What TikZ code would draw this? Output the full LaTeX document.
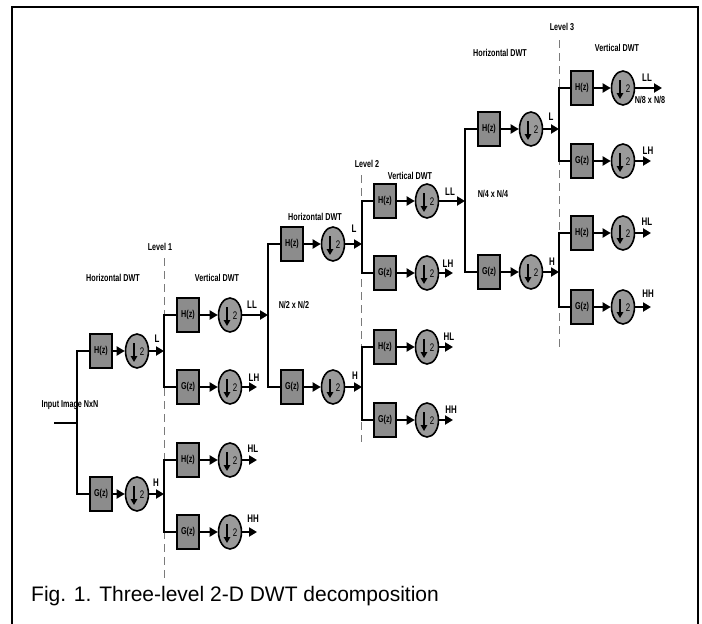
\documentclass[tikz,border=0pt]{standalone}
\usepackage{fontspec}
\setmainfont{Liberation Sans}
\newfontfamily\lab[FakeStretch=0.72]{Liberation Sans}
\usetikzlibrary{arrows.meta,shapes.geometric}
\definecolor{boxgray}{HTML}{8C8C8C}
\definecolor{circgray}{HTML}{9A9A9A}
\definecolor{dashgray}{HTML}{7A7A7A}
\newcommand\dnsamp[3]{%
  \node[dsamp] (#1) at (#2,#3) {};
  \draw[line width=1.4pt,-{Triangle[length=6pt,width=6.5pt]}] ([xshift=-3pt,yshift=8pt]#1.center) -- ([xshift=-3pt,yshift=-11pt]#1.center);
  \node[lbl,font=\lab\fontsize{11}{12}\selectfont] at ([xshift=5pt,yshift=-1pt]#1.center) {2};
}
\newcommand\stage[6]{%
  \node[filt] (#1) at (#3,#5) {#6};
  \dnsamp{#2}{#4}{#5}
  \draw[sig] (#1.east) -- (#2.west);
}
\begin{document}
\begin{tikzpicture}[x=1pt,y=-1pt,
  filt/.style={draw=black,line width=2.6pt,fill=boxgray,minimum width=22pt,minimum height=34pt,inner sep=0pt,font=\lab\bfseries\fontsize{10}{11}\selectfont},
  dsamp/.style={ellipse,draw=black,line width=1.6pt,fill=circgray,minimum width=23pt,minimum height=34pt,inner sep=0pt},
  sig/.style={line width=2.8pt,-{Triangle[length=8pt,width=9pt]}},
  wire/.style={line width=2.8pt},
  lbl/.style={font=\lab\bfseries\fontsize{10}{11}\selectfont,inner sep=0pt},
  sl/.style={font=\lab\bfseries\fontsize{11}{12}\selectfont,inner sep=0pt},
  lvl/.style={draw=dashgray,line width=1pt,dash pattern=on 8pt off 5pt},
]
\useasboundingbox (0,0) rectangle (702,624);
\fill[white] (0,0) rectangle (702,624);
% frame
\draw[line width=2pt] (11.5,630) -- (11.5,6.5) -- (697.5,6.5) -- (697.5,630);

% dashed level separators
\draw[lvl] (164,258) -- (164,582);
\draw[lvl] (361,175) -- (361,442);
\draw[lvl] (559,40) -- (559,347);

% headings
\node[lbl] at (160,247) {Level 1};
\node[lbl] at (367,164) {Level 2};
\node[lbl] at (562,27) {Level 3};
\node[lbl] at (113,278) {Horizontal DWT};
\node[lbl] at (217,278) {Vertical DWT};
\node[lbl] at (315,217) {Horizontal DWT};
\node[lbl] at (410,176) {Vertical DWT};
\node[lbl] at (500,53) {Horizontal DWT};
\node[lbl] at (617,48) {Vertical DWT};
\node[lbl] at (70,405) {Input Image NxN};
\node[lbl] at (294,305) {N/2 x N/2};
\node[lbl] at (493,194) {N/4 x N/4};
\node[lbl] at (650,100) {N/8 x N/8};

% stages
\stage{a1}{a1d}{101}{137}{351}{H(z)}
\stage{a2}{a2d}{101}{137}{494}{G(z)}
\stage{b1}{b1d}{188}{230}{315}{H(z)}
\stage{b2}{b2d}{188}{230}{387}{G(z)}
\stage{b3}{b3d}{188}{230}{460}{H(z)}
\stage{b4}{b4d}{188}{230}{532}{G(z)}
\stage{c1}{c1d}{292}{333}{244}{H(z)}
\stage{c2}{c2d}{292}{333}{387}{G(z)}
\stage{d1}{d1d}{385}{427}{201}{H(z)}
\stage{d2}{d2d}{385}{427}{273}{G(z)}
\stage{d3}{d3d}{385}{427}{347}{H(z)}
\stage{d4}{d4d}{385}{427}{420}{G(z)}
\stage{e1}{e1d}{489}{531}{129}{H(z)}
\stage{e2}{e2d}{489}{531}{272}{G(z)}
\stage{f1}{f1d}{582}{623}{88}{H(z)}
\stage{f2}{f2d}{582}{623}{161}{G(z)}
\stage{f3}{f3d}{582}{623}{233}{H(z)}
\stage{f4}{f4d}{582}{623}{307}{G(z)}

% junctions
\coordinate (in0) at (54,423);
\coordinate (j0) at (77,423);
\coordinate (j1) at (164,351);
\coordinate (j2) at (164,494);
\coordinate (j3) at (268,315);
\coordinate (j4) at (362,244);
\coordinate (j5) at (362,387);
\coordinate (j6) at (465,201);
\coordinate (j7) at (559,129);
\coordinate (j8) at (559,272);

\draw[wire] (in0) -- (j0);
\draw[wire] (a1.west) -| (j0) |- (a2.west);
\draw[sig] (a1d.east) -- (j1);
\draw[sig] (a2d.east) -- (j2);
\draw[wire] (b1.west) -| (j1) |- (b2.west);
\draw[wire] (b3.west) -| (j2) |- (b4.west);
\draw[sig] (b1d.east) -- (j3);
\draw[wire] (c1.west) -| (j3) |- (c2.west);
\draw[sig] (c1d.east) -- (j4);
\draw[sig] (c2d.east) -- (j5);
\draw[wire] (d1.west) -| (j4) |- (d2.west);
\draw[wire] (d3.west) -| (j5) |- (d4.west);
\draw[sig] (d1d.east) -- (j6);
\draw[wire] (e1.west) -| (j6) |- (e2.west);
\draw[sig] (e1d.east) -- (j7);
\draw[sig] (e2d.east) -- (j8);
\draw[wire] (f1.west) -| (j7) |- (f2.west);
\draw[wire] (f3.west) -| (j8) |- (f4.west);

% free outputs
\coordinate (o1) at (257,387);
\coordinate (o2) at (257,460);
\coordinate (o3) at (257,532);
\coordinate (o4) at (453,273);
\coordinate (o5) at (453,347);
\coordinate (o6) at (453,420);
\coordinate (o7) at (662,88);
\coordinate (o8) at (651,161);
\coordinate (o9) at (651,233);
\coordinate (o10) at (651,307);
\draw[sig] (b2d.east) -- (o1);
\draw[sig] (b3d.east) -- (o2);
\draw[sig] (b4d.east) -- (o3);
\draw[sig] (d2d.east) -- (o4);
\draw[sig] (d3d.east) -- (o5);
\draw[sig] (d4d.east) -- (o6);
\draw[sig] (f1d.east) -- (o7);
\draw[sig] (f2d.east) -- (o8);
\draw[sig] (f3d.east) -- (o9);
\draw[sig] (f4d.east) -- (o10);

% signal labels
\node[sl] at (157,339) {L};
\node[sl] at (156,483) {H};
\node[sl] at (252,305) {LL};
\node[sl] at (254,378) {LH};
\node[sl] at (253,449) {HL};
\node[sl] at (253,519) {HH};
\node[sl] at (354,229) {L};
\node[sl] at (355,376) {H};
\node[sl] at (450,192) {LL};
\node[sl] at (448,264) {LH};
\node[sl] at (449,337) {HL};
\node[sl] at (451,410) {HH};
\node[sl] at (551,117) {L};
\node[sl] at (552,262) {H};
\node[sl] at (647,78) {LL};
\node[sl] at (648,151) {LH};
\node[sl] at (647,222) {HL};
\node[sl] at (648,294) {HH};

% caption
\node[anchor=west,inner sep=0pt,font=\fontsize{21}{24}\selectfont] at (31,596) {Fig. 1. Three-level 2-D DWT decomposition};
\end{tikzpicture}
\end{document}
